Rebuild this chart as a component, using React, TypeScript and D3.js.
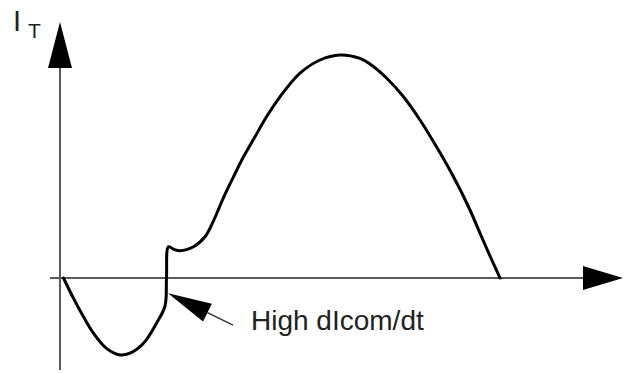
import React from "react";
import * as d3 from "d3";

// Thyristor current waveform: time (arbitrary units) and current I_T
const timeValues = [
  0.7, 2.7, 4.7, 6.7, 9.3, 12, 14, 16.7, 19.3, 21, 21.3, 21.7, 22.7, 24,
  26.7, 29, 30.7, 32.7, 34.7, 36.7, 39, 41.3, 44, 48, 52, 56, 60, 62, 65.3,
  68.7, 72, 75.3, 78.7, 82, 84, 86, 88,
];
const currentValues = [
  0, -5.1, -9.7, -13.8, -17.6, -19.25, -18.8, -16.3, -11.3, -7, 0, 7.8, 7.2,
  6.8, 7.8, 10.3, 14.3, 20.1, 25.3, 30.3, 35.3, 40.3, 45.3, 51.2, 54.5,
  55.75, 54.9, 53.5, 50, 45.3, 39.5, 32.8, 25.3, 17, 11.2, 5.5, 0,
];

// Axis extents in data units
const xAxisExtent = [-2, 104.6, 112.6]; // start, arrow base, arrow tip
const yAxisExtent = [-23, 52.5, 64]; // bottom, arrow base, arrow tip

// Annotation pointing at the commutation point
const pointerTip = [21.6, -3.8];
const pointerTail = [34.6, -11.8];
const yLabel = "I";
const yLabelSub = "T";
const annotationText = "High dIcom/dt";

const W = 624;
const H = 373;

export default function App() {
  const x = d3.scaleLinear().domain([0, 100]).range([60, 560]);
  const y = d3.scaleLinear().domain([-20, 55]).range([358, 58]);

  const data = timeValues.map((t, i) => [t, currentValues[i]] as [number, number]);
  const line = d3
    .line<[number, number]>()
    .x((d) => x(d[0]))
    .y((d) => y(d[1]))
    .curve(d3.curveCatmullRom.alpha(0.5));

  const axisColor = "#5a5a5a";
  const x0 = x(0);
  const y0 = y(0);

  // horizontal arrow
  const xb = x(xAxisExtent[1]);
  const xt = x(xAxisExtent[2]);
  // vertical arrow
  const yb = y(yAxisExtent[1]);
  const yt = y(yAxisExtent[2]);

  // pointer arrow head
  const tipX = x(pointerTip[0]);
  const tipY = y(pointerTip[1]);
  const tailX = x(pointerTail[0]);
  const tailY = y(pointerTail[1]);
  const dx = tailX - tipX;
  const dy = tailY - tipY;
  const len = Math.hypot(dx, dy);
  const ux = dx / len;
  const uy = dy / len;
  const headLen = 44;
  const headHalf = 10;
  const bx = tipX + ux * headLen;
  const by = tipY + uy * headLen;
  const head = [
    [tipX, tipY],
    [bx - uy * headHalf, by + ux * headHalf],
    [bx + uy * headHalf, by - ux * headHalf],
  ];

  return (
    <svg
      width={W}
      height={H}
      style={{ position: "absolute", left: 0, top: 0, background: "#fff" }}
    >
      {/* axes */}
      <line x1={x(xAxisExtent[0])} x2={xb} y1={y0} y2={y0} stroke={axisColor} strokeWidth={2} />
      <path
        d={`M${xb},${y0 - 12}L${xt},${y0}L${xb},${y0 + 12}Z`}
        fill="#000"
      />
      <line x1={x0} x2={x0} y1={y(yAxisExtent[0])} y2={yb} stroke={axisColor} strokeWidth={2} />
      <path d={`M${x0 - 12},${yb}L${x0},${yt}L${x0 + 12},${yb}Z`} fill="#000" />

      {/* axis label */}
      <text
        x={13}
        y={31}
        fontFamily="Liberation Sans, Arial, sans-serif"
        fontSize={29}
        fill="#222"
      >
        {yLabel}
      </text>
      <text
        x={28}
        y={38}
        fontFamily="Liberation Sans, Arial, sans-serif"
        fontSize={21}
        fill="#222"
      >
        {yLabelSub}
      </text>

      {/* waveform */}
      <path
        d={line(data) || ""}
        fill="none"
        stroke="#000"
        strokeWidth={3}
        strokeLinejoin="round"
        strokeLinecap="round"
      />

      {/* pointer */}
      <line x1={bx} y1={by} x2={tailX} y2={tailY} stroke="#333" strokeWidth={1.5} />
      <path d={`M${head.map((p) => p.join(",")).join("L")}Z`} fill="#000" />
      <text
        x={251}
        y={330}
        fontFamily="Liberation Sans, Arial, sans-serif"
        fontSize={28}
        fill="#222"
      >
        {annotationText}
      </text>
    </svg>
  );
}
